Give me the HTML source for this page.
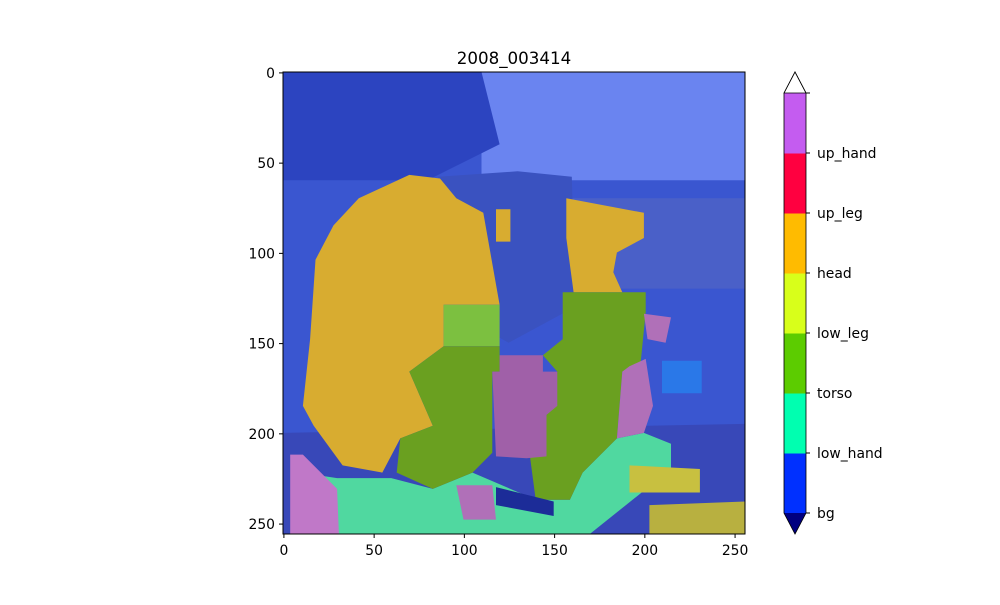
<!DOCTYPE html>
<html><head><meta charset="utf-8"><style>
body{margin:0;background:#fff;}
svg text{font-family:"DejaVu Sans","Liberation Sans",sans-serif;}
</style></head><body>
<svg id="chart" width="1000" height="600" viewBox="0 0 1000 600" xmlns="http://www.w3.org/2000/svg">
<defs><clipPath id="imgclip"><rect x="283" y="72" width="462" height="462"/></clipPath></defs>
<text x="514" y="64" font-size="16.7" text-anchor="middle">2008_003414</text>
<g id="img" clip-path="url(#imgclip)"></g>
<rect x="283" y="72" width="462" height="462" fill="none" stroke="#000" stroke-width="1"/>
<g id="xaxis"></g>
<g id="yaxis"></g>
<g id="cbar"></g>
</svg>
<script>
const NS="http://www.w3.org/2000/svg";
const xTicks=[0,50,100,150,200,250];
const yTicks=[0,50,100,150,200,250];
const classLabels=["bg","low_hand","torso","low_leg","head","up_leg","up_hand",""];
const classColors=["#0030ff","#00ffb0","#5ccc00","#d8ff1a","#ffbb00","#ff0040","#c45cf0"];
// regions in image pixel coordinates (0-256)
const bgRects=[
 {n:"sky",c:"#6a84f0",p:[[110,0],[256,0],[256,60],[110,60]]},
 {n:"trees-left",c:"#2c44c0",p:[[0,0],[110,0],[120,40],[80,60],[0,60]]},
 {n:"bridge",c:"#4a60c8",p:[[140,70],[256,70],[256,120],[140,120]]},
 {n:"train-body",c:"#3a52c0",p:[[86,58],[130,55],[160,58],[162,130],[125,150],[90,130]]},
 {n:"ground",c:"#3848b8",p:[[0,200],[256,195],[256,256],[0,256]]}
];
const regions=[
 {n:"aqua-ground",c:"#50d8a0",p:[[10,222],[30,225],[60,225],[83,231],[105,222],[140,237],[159,237],[166,222],[185,203],[200,200],[215,206],[215,220],[190,240],[170,256],[10,256]]},
 {n:"orange-left",c:"#d8ac30",p:[[42,70],[70,57],[87,59],[96,70],[111,78],[120,129],[89,129],[89,152],[70,166],[83,196],[65,203],[55,222],[33,218],[17,196],[11,185],[15,148],[18,104],[28,85]]},
 {n:"orange-right",c:"#d8ac30",p:[[157,70],[200,78],[200,92],[185,100],[183,111],[188,122],[161,122],[157,92]]},
 {n:"orange-patch",c:"#d8ac30",p:[[118,76],[126,76],[126,94],[118,94]]},
 {n:"green-light",c:"#7cc040",p:[[89,129],[120,129],[120,152],[89,152]]},
 {n:"green-right",c:"#6aa020",p:[[155,122],[201,122],[201,133],[198,163],[188,166],[185,203],[166,222],[159,237],[140,237],[137,214],[148,185],[152,166],[144,157],[155,148]]},
 {n:"green-mid",c:"#6aa020",p:[[89,152],[120,152],[120,166],[116,166],[116,211],[105,222],[83,231],[63,222],[65,203],[83,196],[70,166]]},
 {n:"magenta-center",c:"#a060a8",p:[[120,157],[144,157],[144,166],[152,166],[152,185],[146,190],[146,213],[135,214],[118,213],[116,166],[120,166]]},
 {n:"magenta-right",c:"#b070b8",p:[[192,163],[201,159],[205,185],[200,200],[185,203],[188,166]]},
 {n:"magenta-right-top",c:"#b070b8",p:[[200,134],[215,136],[212,150],[202,148]]},
 {n:"magenta-bottom-left",c:"#c078c8",p:[[4,212],[11,212],[30,231],[31,256],[4,256]]},
 {n:"magenta-bottom-mid",c:"#b070b8",p:[[96,229],[116,229],[118,248],[100,248]]},
 {n:"navy-band",c:"#1c2c98",p:[[118,230],[150,238],[150,246],[118,240]]},
 {n:"yellow-bottom-right",c:"#c8c040",p:[[192,218],[231,220],[231,233],[192,233]]},
 {n:"yellow-bottom-corner",c:"#b8b040",p:[[203,240],[256,238],[256,256],[203,256]]},
 {n:"far-train",c:"#2a78e8",p:[[210,160],[232,160],[232,178],[210,178]]}
];
function xs(v){return 283+ (v+0.5)*462/256;}
function ys(v){return 72+ (v+0.5)*462/256;}
function px(v){return 283+v*462/256;}
function py(v){return 72+v*462/256;}
const img=document.getElementById('img');
const base=document.createElementNS(NS,'rect');
base.setAttribute('x',283);base.setAttribute('y',72);base.setAttribute('width',462);base.setAttribute('height',462);base.setAttribute('fill','#3a56d0');


img.appendChild(base);
function poly(r){
 const e=document.createElementNS(NS,'polygon');
 e.setAttribute('points',r.p.map(q=>px(q[0]).toFixed(1)+','+py(q[1]).toFixed(1)).join(' '));
 e.setAttribute('fill',r.c);
 
 
 img.appendChild(e);
}
bgRects.forEach(poly);regions.forEach(poly);
const xa=document.getElementById('xaxis'),ya=document.getElementById('yaxis');
xTicks.forEach(t=>{
 const X=xs(t);
 const l=document.createElementNS(NS,'line');
 l.setAttribute('x1',X);l.setAttribute('x2',X);l.setAttribute('y1',534);l.setAttribute('y2',538);l.setAttribute('stroke','#000');
 
 
 xa.appendChild(l);
 const tx=document.createElementNS(NS,'text');
 tx.setAttribute('x',X);tx.setAttribute('y',555);tx.setAttribute('font-size','13.9');tx.setAttribute('text-anchor','middle');tx.textContent=t;
 
 
 xa.appendChild(tx);
});
yTicks.forEach(t=>{
 const Y=ys(t);
 const l=document.createElementNS(NS,'line');
 l.setAttribute('x1',279);l.setAttribute('x2',283);l.setAttribute('y1',Y);l.setAttribute('y2',Y);l.setAttribute('stroke','#000');
 
 
 ya.appendChild(l);
 const tx=document.createElementNS(NS,'text');
 tx.setAttribute('x',275);tx.setAttribute('y',Y+5);tx.setAttribute('font-size','13.9');tx.setAttribute('text-anchor','end');tx.textContent=t;
 
 
 ya.appendChild(tx);
});
const cb=document.getElementById('cbar');
const cbX=784,cbW=22,cbTop=93,cbBot=513;
const seg=(cbBot-cbTop)/classColors.length;
classColors.forEach((c,i)=>{
 const r=document.createElementNS(NS,'rect');
 r.setAttribute('x',cbX);r.setAttribute('y',cbBot-(i+1)*seg);r.setAttribute('width',cbW);r.setAttribute('height',seg+0.5);r.setAttribute('fill',c);
 
 
 cb.appendChild(r);
});
const tri1=document.createElementNS(NS,'polygon');
tri1.setAttribute('points',`${cbX},${cbTop} ${cbX+cbW/2},72 ${cbX+cbW},${cbTop}`);tri1.setAttribute('fill','#fff');tri1.setAttribute('stroke','#000');tri1.setAttribute('stroke-width','0.8');


cb.appendChild(tri1);
const tri2=document.createElementNS(NS,'polygon');
tri2.setAttribute('points',`${cbX},${cbBot} ${cbX+cbW/2},534 ${cbX+cbW},${cbBot}`);tri2.setAttribute('fill','#000080');


cb.appendChild(tri2);
const out=document.createElementNS(NS,'path');
out.setAttribute('d',`M${cbX},${cbTop} L${cbX+cbW/2},72 L${cbX+cbW},${cbTop} L${cbX+cbW},${cbBot} L${cbX+cbW/2},534 L${cbX},${cbBot} Z`);
out.setAttribute('fill','none');out.setAttribute('stroke','#000');out.setAttribute('stroke-width','0.8');


cb.appendChild(out);
classLabels.forEach((lab,i)=>{
 const Y=cbBot-i*seg;
 const l=document.createElementNS(NS,'line');
 l.setAttribute('x1',cbX+cbW);l.setAttribute('x2',cbX+cbW+4);l.setAttribute('y1',Y);l.setAttribute('y2',Y);l.setAttribute('stroke','#000');
 
 
 cb.appendChild(l);
 const tx=document.createElementNS(NS,'text');
 tx.setAttribute('x',817);tx.setAttribute('y',Y+5);tx.setAttribute('font-size','13.9');tx.textContent=lab;
 
 
 cb.appendChild(tx);
});
</script>
</body></html>
